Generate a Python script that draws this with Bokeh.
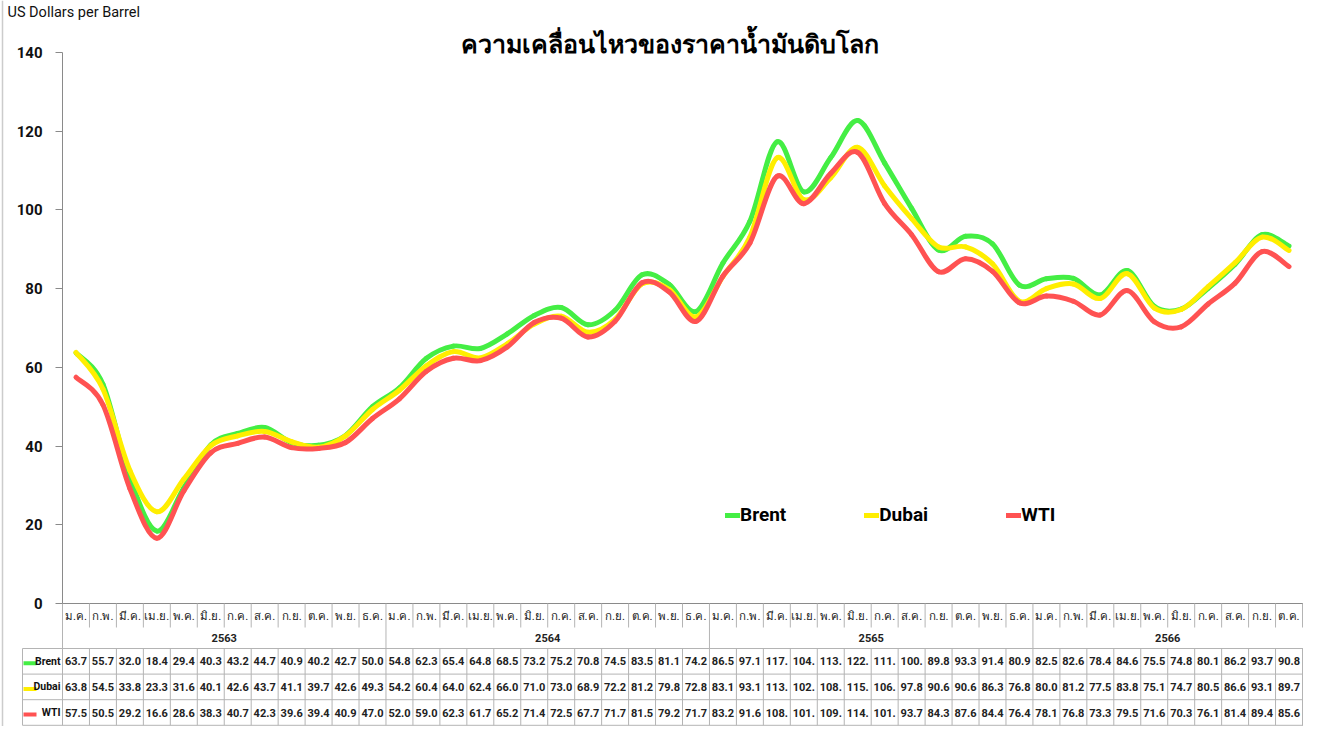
import numpy as np
from bokeh.plotting import figure
from bokeh.models import (Range1d, LinearAxis, FixedTicker, Legend, LegendItem,
                          ColumnDataSource)
from bokeh.core.properties import value
from bokeh.embed import file_html
from bokeh.resources import INLINE

# ---------------- data ----------------
month_names = ["ม.ค.", "ก.พ.", "มี.ค.", "เม.ย.", "พ.ค.", "มิ.ย.",
               "ก.ค.", "ส.ค.", "ก.ย.", "ต.ค.", "พ.ย.", "ธ.ค."]
years = ["2563", "2564", "2565", "2566"]
months_per_year = [12, 12, 12, 10]

brent = [63.7, 55.7, 32.0, 18.4, 29.4, 40.3, 43.2, 44.7, 40.9, 40.2, 42.7, 50.0,
         54.8, 62.3, 65.4, 64.8, 68.5, 73.2, 75.2, 70.8, 74.5, 83.5, 81.1, 74.2,
         86.5, 97.1, 117.3, 104.6, 113.3, 122.7, 111.9, 100.4, 89.8, 93.3, 91.4, 80.9,
         82.5, 82.6, 78.4, 84.6, 75.5, 74.8, 80.1, 86.2, 93.7, 90.8]
dubai = [63.8, 54.5, 33.8, 23.3, 31.6, 40.1, 42.6, 43.7, 41.1, 39.7, 42.6, 49.3,
         54.2, 60.4, 64.0, 62.4, 66.0, 71.0, 73.0, 68.9, 72.2, 81.2, 79.8, 72.8,
         83.1, 93.1, 113.2, 102.6, 108.2, 115.9, 106.1, 97.8, 90.6, 90.6, 86.3, 76.8,
         80.0, 81.2, 77.5, 83.8, 75.1, 74.7, 80.5, 86.6, 93.1, 89.7]
wti = [57.5, 50.5, 29.2, 16.6, 28.6, 38.3, 40.7, 42.3, 39.6, 39.4, 40.9, 47.0,
       52.0, 59.0, 62.3, 61.7, 65.2, 71.4, 72.5, 67.7, 71.7, 81.5, 79.2, 71.7,
       83.2, 91.6, 108.5, 101.6, 109.3, 114.6, 101.6, 93.7, 84.3, 87.6, 84.4, 76.4,
       78.1, 76.8, 73.3, 79.5, 71.6, 70.3, 76.1, 81.4, 89.4, 85.6]
series_names = ["Brent", "Dubai", "WTI"]
series_colors = ["#44ee44", "#ffee00", "#ff5252"]
y_ticks = [0, 20, 40, 60, 80, 100, 120, 140]

title_text = "ความเคลื่อนไหวของราคาน้ำมันดิบโลก"
y_label = "US Dollars per Barrel"

# ---------------- layout ----------------
W, H = 1303, 726
AX = 62                      # pixel x of the value axis
n = len(brent)
CW = (W - AX - 1) / n        # pixel width of one month column
Y0, YTOP = 603, 52
ppu = (Y0 - YTOP) / 140.0
ROW_M = Y0 + 24          # month row bottom
ROW_Y = ROW_M + 21       # year row bottom / data table top
RH = 25.6
TBL_LEFT = 22

FONT = "Roboto"
GRID = "#b4b4b4"

x_end = (W - AX) / CW

p = figure(width=W, height=H,
           x_range=Range1d(-AX / CW, x_end),
           y_range=Range1d(-(H - Y0) / ppu, 140 + YTOP / ppu),
           x_axis_location=None, y_axis_location=None,
           toolbar_location=None, output_backend="svg",
           min_border=0, outline_line_color=None)
p.xgrid.visible = False
p.ygrid.visible = False
p.extra_x_ranges["px"] = Range1d(0, W)
p.extra_y_ranges["py"] = Range1d(H, 0)

# outer left border line
p.segment(x0=[2], y0=[0], x1=[2], y1=[H], x_range_name="px", y_range_name="py",
          line_color="#cccccc", line_width=1.5)

# ---------------- smooth series (cubic Bezier through the monthly values) ----------------
xs = np.arange(n) + 0.5
renderers = []
for vals, col in zip([brent, dubai, wti], series_colors):
    v = np.asarray(vals, dtype=float)
    vp = np.concatenate([[v[0]], v, [v[-1]]])
    xp = np.concatenate([[xs[0]], xs, [xs[-1]]])
    i = np.arange(n - 1) + 1
    src = ColumnDataSource(dict(
        x0=xp[i], y0=vp[i], x1=xp[i + 1], y1=vp[i + 1],
        cx0=xp[i] + (xp[i + 1] - xp[i - 1]) / 6.0, cy0=vp[i] + (vp[i + 1] - vp[i - 1]) / 6.0,
        cx1=xp[i + 1] - (xp[i + 2] - xp[i]) / 6.0, cy1=vp[i + 1] - (vp[i + 2] - vp[i]) / 6.0,
    ))
    r = p.bezier(x0="x0", y0="y0", x1="x1", y1="y1", cx0="cx0", cy0="cy0",
                 cx1="cx1", cy1="cy1", source=src, line_color=col, line_width=5,
                 line_cap="round")
    renderers.append(r)

# ---------------- value axis ----------------
yaxis = LinearAxis(fixed_location=0, bounds=(0, 140), ticker=FixedTicker(ticks=y_ticks),
                   axis_line_color="#8a8a8a", major_tick_line_color="#8a8a8a",
                   major_tick_out=7, major_tick_in=0, minor_tick_line_color=None,
                   major_label_text_font_size="15px", major_label_standoff=13,
                   major_label_text_color="#111111", major_label_text_font=FONT,
                   major_label_text_font_style="bold")
p.add_layout(yaxis, "left")

# ---------------- texts at top ----------------
p.text(x=[669], y=[44], text=[title_text], x_range_name="px", y_range_name="py",
       text_font=value(FONT), text_font_size="25px", text_font_style="bold",
       text_align="center", text_baseline="middle", text_color="#000000")
p.text(x=[7], y=[3], text=[y_label], x_range_name="px", y_range_name="py",
       text_font=value(FONT), text_font_size="14.5px",
       text_align="left", text_baseline="top", text_color="#111111")

# ---------------- category table ----------------
p.segment(x0=[0], y0=[Y0], x1=[x_end], y1=[Y0], y_range_name="py",
          line_color="#8a8a8a", line_width=1)
year_starts = np.cumsum([0] + months_per_year[:-1])
bounds = np.arange(1, n + 1)
is_year = np.isin(bounds, year_starts)
p.segment(x0=bounds[~is_year], y0=[Y0] * int((~is_year).sum()),
          x1=bounds[~is_year], y1=[ROW_M] * int((~is_year).sum()),
          y_range_name="py", line_color=GRID, line_width=1)
yb = [0] + list(year_starts[1:])
p.segment(x0=yb, y0=[Y0] * len(yb), x1=yb, y1=[ROW_Y] * len(yb),
          y_range_name="py", line_color=GRID, line_width=1)
m_labels = [month_names[k % 12] for k in range(n)]
p.text(x=xs, y=[(Y0 + ROW_M) / 2] * n, text=m_labels, y_range_name="py",
       text_font=value(FONT), text_font_size="11.5px", text_align="center",
       text_baseline="middle", text_color="#222222")
y_centers = []
for s, m in zip(year_starts, months_per_year):
    y_centers.append(s + m / 2)
p.text(x=y_centers, y=[(ROW_M + ROW_Y) / 2] * len(years), text=years, y_range_name="py",
       text_font=value(FONT), text_font_size="11px", text_font_style="bold",
       text_align="center", text_baseline="middle", text_color="#222222")

# ---------------- data table ----------------
row_lines = [ROW_Y + RH * k for k in range(4)]
p.segment(x0=[TBL_LEFT] * 4, y0=row_lines, x1=[W] * 4, y1=row_lines,
          x_range_name="px", y_range_name="py", line_color=GRID, line_width=1)
vb = np.arange(0, n + 1)
p.segment(x0=vb, y0=[ROW_Y] * len(vb), x1=vb, y1=[row_lines[-1]] * len(vb),
          y_range_name="py", line_color=GRID, line_width=1)
p.segment(x0=[TBL_LEFT], y0=[ROW_Y], x1=[TBL_LEFT], y1=[row_lines[-1]],
          x_range_name="px", y_range_name="py", line_color=GRID, line_width=1)

for k, (name, vals, col) in enumerate(zip(series_names, [brent, dubai, wti], series_colors)):
    yc = ROW_Y + RH * (k + 0.5)
    p.segment(x0=[TBL_LEFT + 1], y0=[yc + 2], x1=[TBL_LEFT + 14], y1=[yc + 2],
              x_range_name="px", y_range_name="py", line_color=col, line_width=4)
    p.text(x=[AX - 2], y=[yc], text=[name], x_range_name="px", y_range_name="py",
           text_font=value(FONT), text_font_size="10.5px", text_font_style="bold",
           text_align="right", text_baseline="middle", text_color="#111111")
    labels = [("%.1f" % v)[:4] for v in vals]
    p.text(x=xs, y=[yc] * n, text=labels, y_range_name="py",
           text_font=value(FONT), text_font_size="11px", text_font_style="bold",
           text_align="center", text_baseline="middle", text_color="#222222")

# ---------------- legend ----------------
legend = Legend(items=[LegendItem(label=nm, renderers=[r]) for nm, r in zip(series_names, renderers)],
                orientation="horizontal", location=(725, 200),
                glyph_width=15, glyph_height=20, label_standoff=0, spacing=78,
                padding=0, margin=0, background_fill_alpha=0, border_line_color=None,
                label_text_font=FONT, label_text_font_size="19px",
                label_text_font_style="bold", label_text_color="#000000")
p.add_layout(legend, "center")

open("out.html", "w").write(file_html(p, INLINE))
